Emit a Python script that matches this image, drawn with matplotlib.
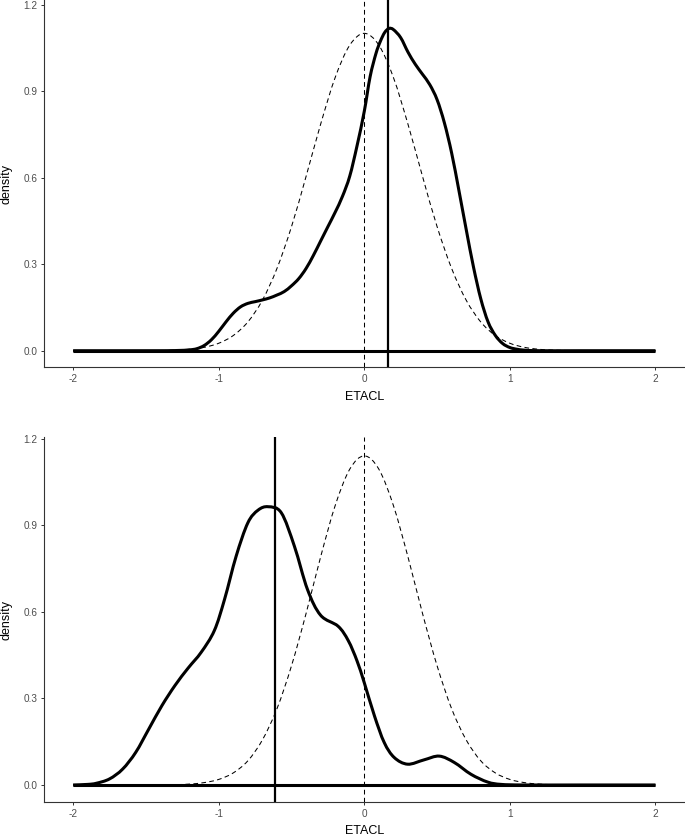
import matplotlib
matplotlib.use("Agg")
import matplotlib.pyplot as plt
from matplotlib.path import Path
from matplotlib.patches import PathPatch

plt.rcParams['font.family'] = ['Liberation Sans', 'DejaVu Sans']
plt.rcParams['axes.unicode_minus'] = False

# ---------------- data ----------------
x_ticks = [-2, -1, 0, 1, 2]
y_ticks = [0.0, 0.3, 0.6, 0.9, 1.2]
y_ticklabels = ["0.0", "0.3", "0.6", "0.9", "1.2"]
x_label = "ETACL"
y_label = "density"

# top panel: observed density (solid) and reference normal (dashed)
top_dens_x = [-2.0, -1.5, -1.3, -1.2, -1.15, -1.1, -1.05, -1.0, -0.95, -0.9, -0.85,
              -0.8, -0.75, -0.7, -0.65, -0.6, -0.55, -0.5, -0.45, -0.4, -0.35, -0.3,
              -0.25, -0.2, -0.15, -0.1, -0.05, 0.0, 0.04, 0.08, 0.11, 0.14, 0.17, 0.2,
              0.25, 0.3, 0.35, 0.4, 0.45, 0.5, 0.55, 0.6, 0.65, 0.7, 0.75, 0.8, 0.85,
              0.9, 0.95, 1.0, 1.05, 1.1, 1.2, 1.5, 2.0]
top_dens_y = [0.0, 0.0, 0.0005, 0.003, 0.007, 0.018, 0.038, 0.067, 0.10, 0.13, 0.152,
              0.164, 0.170, 0.176, 0.183, 0.193, 0.205, 0.225, 0.25, 0.285, 0.33, 0.38,
              0.43, 0.48, 0.535, 0.605, 0.71, 0.83, 0.95, 1.03, 1.072, 1.103, 1.117, 1.113,
              1.085, 1.035, 0.993, 0.958, 0.922, 0.87, 0.79, 0.685, 0.555, 0.42, 0.29, 0.18,
              0.10, 0.053, 0.025, 0.011, 0.005, 0.002, 0.0, 0.0, 0.0]
top_norm_x = [-2.0, -1.5, -1.3, -1.2, -1.1, -1.0, -0.9, -0.8, -0.7, -0.6, -0.5, -0.4,
              -0.3, -0.2, -0.1, 0.0, 0.1, 0.2, 0.3, 0.4, 0.5, 0.6, 0.7, 0.8, 0.9, 1.0,
              1.1, 1.2, 1.3, 1.5, 2.0]
top_norm_y = [0.0, 0.0003, 0.0019, 0.005, 0.0117, 0.0258, 0.0526, 0.0996, 0.175, 0.285,
              0.430, 0.604, 0.785, 0.947, 1.059, 1.10, 1.059, 0.947, 0.785, 0.604, 0.430,
              0.285, 0.175, 0.0996, 0.0526, 0.0258, 0.0117, 0.005, 0.0019, 0.0003, 0.0]
top_obs_line = 0.16
top_ref_line = 0.0

# bottom panel
bot_dens_x = [-2.0, -1.9, -1.84, -1.75, -1.66, -1.57, -1.48, -1.39, -1.3, -1.21, -1.12,
              -1.03, -0.96, -0.88, -0.8, -0.73, -0.66, -0.57, -0.48, -0.39, -0.3, -0.18,
              -0.11, -0.05, 0.0, 0.07, 0.137, 0.206, 0.298, 0.41, 0.515, 0.618, 0.733,
              0.848, 0.94, 1.1, 1.5, 2.0]
bot_dens_y = [0.0, 0.002, 0.006, 0.021, 0.055, 0.113, 0.194, 0.275, 0.345, 0.405, 0.46,
              0.535, 0.643, 0.793, 0.908, 0.952, 0.964, 0.943, 0.827, 0.677, 0.588, 0.55,
              0.50, 0.43, 0.354, 0.239, 0.147, 0.095, 0.072, 0.087, 0.100, 0.078, 0.037,
              0.010, 0.002, 0.0, 0.0, 0.0]
bot_norm_x = [-2.0, -1.5, -1.3, -1.2, -1.1, -1.0, -0.9, -0.8, -0.7, -0.6, -0.5, -0.4,
              -0.3, -0.2, -0.1, 0.0, 0.1, 0.2, 0.3, 0.4, 0.5, 0.6, 0.7, 0.8, 0.9, 1.0,
              1.1, 1.2, 1.3, 1.5, 2.0]
bot_norm_y = [0.0, 0.0001, 0.0011, 0.0032, 0.0082, 0.0192, 0.0418, 0.0837, 0.156, 0.264,
              0.413, 0.594, 0.790, 0.968, 1.094, 1.14, 1.094, 0.968, 0.790, 0.594, 0.413,
              0.264, 0.156, 0.0837, 0.0418, 0.0192, 0.0082, 0.0032, 0.0011, 0.0001, 0.0]
bot_obs_line = -0.614
bot_ref_line = 0.0


def smooth_path(xs, ys):
    """Cubic Bezier path passing through the given points (Catmull-Rom tangents)."""
    pts = list(zip(xs, ys))
    n = len(pts)
    verts = [pts[0]]
    codes = [Path.MOVETO]
    for i in range(n - 1):
        p0 = pts[i - 1] if i > 0 else pts[i]
        p1 = pts[i]
        p2 = pts[i + 1]
        p3 = pts[i + 2] if i + 2 < n else pts[i + 1]
        c1 = (p1[0] + (p2[0] - p0[0]) / 6.0, p1[1] + (p2[1] - p0[1]) / 6.0)
        c2 = (p2[0] - (p3[0] - p1[0]) / 6.0, p2[1] - (p3[1] - p1[1]) / 6.0)
        verts += [c1, c2, p2]
        codes += [Path.CURVE4] * 3
    return Path(verts, codes)


# ---------------- figure ----------------
W, H = 685, 836
fig = plt.figure(figsize=(W / 100, H / 100), dpi=100)
fig.patch.set_facecolor('white')

left = 44 / W
right = 684.6 / W
ax_top = fig.add_axes([left, 1 - 367.3 / H, right - left, 367.3 / H])
ax_bot = fig.add_axes([left, 1 - 802.3 / H, right - left, (802.3 - 437.3) / H])

panels = [
    (ax_top, top_dens_x, top_dens_y, top_norm_x, top_norm_y, top_obs_line, top_ref_line,
     (-0.0575, 1.2156), -0.082),
    (ax_bot, bot_dens_x, bot_dens_y, bot_norm_x, bot_norm_y, bot_obs_line, bot_ref_line,
     (-0.060, 1.2045), -0.078),
]

dash = (0, (4.5, 3.2))
for ax, dx, dy, nx, ny, obs, ref, ylim, xlab_y in panels:
    ax.set_facecolor('white')
    # reference normal curve (dashed)
    ax.add_patch(PathPatch(smooth_path(nx, ny), facecolor='none', edgecolor='black',
                           lw=0.75, linestyle=dash, zorder=2))
    # observed density outline + its baseline
    ax.add_patch(PathPatch(smooth_path(dx, dy), facecolor='none', edgecolor='black',
                           lw=2.2, zorder=3, joinstyle='round', capstyle='butt'))
    ax.plot([dx[0], dx[-1]], [0, 0], color='black', lw=2.2, zorder=3,
            solid_capstyle='butt')
    # vertical lines
    ax.axvline(ref, color='black', lw=0.75, linestyle=dash, zorder=2)
    ax.axvline(obs, color='black', lw=1.6, zorder=4)

    ax.set_xlim(-2.2, 2.2)
    ax.set_ylim(*ylim)
    ax.set_xticks(x_ticks)
    ax.set_xticklabels([str(t) for t in x_ticks])
    ax.set_yticks(y_ticks)
    ax.set_yticklabels(y_ticklabels)

    for s in ['top', 'right']:
        ax.spines[s].set_visible(False)
    for s in ['left', 'bottom']:
        ax.spines[s].set_color('#333333')
        ax.spines[s].set_linewidth(0.8)
    ax.tick_params(axis='both', length=2.4, width=0.7, color='#333333',
                   labelsize=7.2, labelcolor='#4D4D4D', pad=2.5)

    ax.set_xlabel(x_label, fontsize=9, color='black')
    ax.xaxis.label.set_va('center')
    ax.xaxis.set_label_coords(0.5, xlab_y)
    ax.set_ylabel(y_label, fontsize=9, color='black')
    ax.yaxis.label.set_va('center')
    ax.yaxis.set_label_coords(-0.058, 0.5)

fig.savefig('out.png', dpi=100, facecolor='white')
